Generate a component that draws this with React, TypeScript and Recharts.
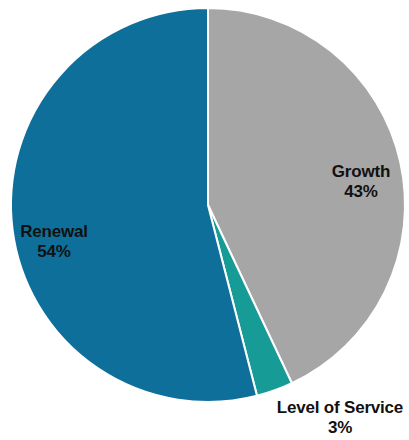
import React from "react";
import { PieChart, Pie, Cell } from "recharts";

// Capital programme split by driver
const categories = ["Growth", "Level of Service", "Renewal"];
const shares = [43, 3, 54];
const colors = ["#A6A6A6", "#179B96", "#0E6F9B"];

const data = categories.map((name, i) => ({ name, value: shares[i] }));

// Label anchor points, relative to the pie centre (px)
const labelOffsets: Record<string, { dx: number; dy: number }> = {
  Growth: { dx: 153, dy: -28 },
  "Level of Service": { dx: 132, dy: 208 },
  Renewal: { dx: -154, dy: 32 },
};

const renderLabel = (props: any) => {
  const { cx, cy, name, value } = props;
  const off = labelOffsets[name];
  if (!off) return null;
  const x = cx + off.dx;
  const y = cy + off.dy;
  return (
    <text
      x={x}
      y={y}
      textAnchor="middle"
      fill="#111"
      fontFamily="'Liberation Sans', Arial, sans-serif"
      fontWeight="bold"
      fontSize={17}
      letterSpacing={-0.2}
    >
      <tspan x={x} dy={0}>{name}</tspan>
      <tspan x={x} dy={19.5}>{`${value}%`}</tspan>
    </text>
  );
};

export default function App() {
  return (
    <div style={{ position: "absolute", left: 0, top: 0, width: 409, height: 440, background: "#fff" }}>
      <PieChart width={409} height={440} margin={{ top: 0, right: 0, bottom: 0, left: 0 }}>
        <Pie
          data={data}
          dataKey="value"
          nameKey="name"
          cx={208}
          cy={205}
          outerRadius={197}
          startAngle={90}
          endAngle={-270}
          stroke="#fff"
          strokeWidth={2}
          label={renderLabel}
          labelLine={false}
          isAnimationActive={false}
        >
          {data.map((d, i) => (
            <Cell key={d.name} fill={colors[i]} />
          ))}
        </Pie>
      </PieChart>
    </div>
  );
}
